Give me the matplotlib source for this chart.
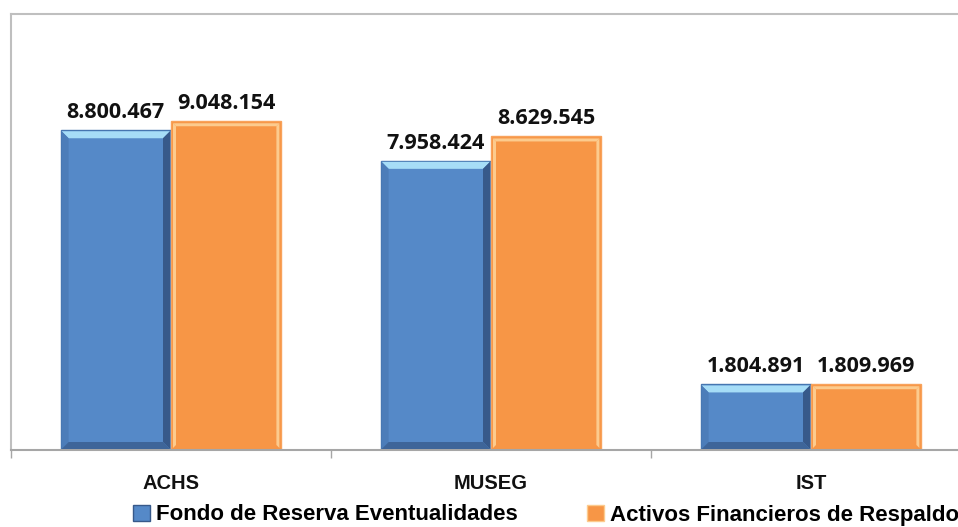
import matplotlib.pyplot as plt
import matplotlib.patches as mpatches
from matplotlib import font_manager
import numpy as np

# ---------------------------------------------------------------
# Datos
# ---------------------------------------------------------------
categorias = ['ACHS', 'MUSEG', 'IST']
fondo_reserva = [8800467, 7958424, 1804891]
activos_respaldo = [9048154, 8629545, 1809969]
etiquetas_fondo = ['8.800.467', '7.958.424', '1.804.891']
etiquetas_activos = ['9.048.154', '8.629.545', '1.809.969']
series = ['Fondo de Reserva Eventualidades', 'Activos Financieros de Respaldo']

colores = {
    'azul': '#5589C8',
    'azul_luz': '#A6DDF7',
    'azul_osc': '#37598A',
    'naranja': '#F79646',
    'naranja_luz': '#FCCB8E',
    'gris': '#BFBFBF',
}

nombres = {f.name for f in font_manager.fontManager.ttflist}
fuente_num = 'Open Sans' if 'Open Sans' in nombres else 'DejaVu Sans'
fuente_cat = 'Liberation Sans Narrow' if 'Liberation Sans Narrow' in nombres else 'Liberation Sans'

W, H = 958, 527
fig = plt.figure(figsize=(W / 100, H / 100), dpi=100)
ax = fig.add_axes([11 / W, 77 / H, 960 / W, 436 / H])

x = np.arange(len(categorias))
ancho = 0.345
b1 = ax.bar(x - ancho / 2, fondo_reserva, ancho, color=colores['azul'],
            edgecolor='#4676B0', linewidth=1, zorder=2)
b2 = ax.bar(x + ancho / 2, activos_respaldo, ancho, color=colores['naranja'],
            edgecolor='#F8A35C', linewidth=1, zorder=2)

ax.set_xlim(-0.5, 2.5)
ax.set_ylim(0, 12000000)

# conversion pixel -> datos, para el biselado
px_x = 3.0 / 960
px_y = 12000000 / 436


def bisel(rect, arriba, izq, der, abajo, b=7, margen=0):
    x0, w, h = rect.get_x(), rect.get_width(), rect.get_height()
    m = margen * px_x
    x0, x1, y1 = x0 + m, x0 + w - m, h - margen * px_y
    dx, dy = b * px_x, b * px_y
    y0 = margen * px_y
    caras = [
        ([(x0, y1), (x1, y1), (x1 - dx, y1 - dy), (x0 + dx, y1 - dy)], arriba),
        ([(x0, y0), (x0, y1), (x0 + dx, y1 - dy), (x0 + dx, y0 + dy)], izq),
        ([(x1, y0), (x1, y1), (x1 - dx, y1 - dy), (x1 - dx, y0 + dy)], der),
        ([(x0, y0), (x1, y0), (x1 - dx, y0 + dy), (x0 + dx, y0 + dy)], abajo),
    ]
    for pts, c in caras:
        if c is None:
            continue
        ax.add_patch(mpatches.Polygon(pts, closed=True, facecolor=c,
                                      edgecolor='none', zorder=3))


for r in b1:
    bisel(r, colores['azul_luz'], '#4C7DB9', colores['azul_osc'], '#3E6599', b=7, margen=1)
for r in b2:
    bisel(r, colores['naranja_luz'], colores['naranja_luz'], colores['naranja_luz'], None, b=3, margen=2)

# etiquetas de valores
for rects, etqs in ((b1, etiquetas_fondo), (b2, etiquetas_activos)):
    for r, t in zip(rects, etqs):
        ax.text(r.get_x() + r.get_width() / 2, r.get_height() + 7 * px_y, t,
                ha='center', va='bottom', fontsize=15.5, fontweight='bold',
                family=fuente_num, color='#111111')

# ejes
for s in ('top', 'left', 'bottom', 'right'):
    ax.spines[s].set_color(colores['gris'])
    ax.spines[s].set_linewidth(1.5)
ax.spines['bottom'].set_color('#A6A6A6')
ax.set_yticks([])
ax.set_xticks([-0.5, 0.5, 1.5, 2.5])
ax.tick_params(axis='x', which='major', length=6, width=1, color='#A6A6A6',
               labelbottom=False)
ax.set_xticks(x, minor=True)
ax.set_xticklabels(categorias, minor=True, fontsize=14.5, fontweight='bold',
                   family=fuente_cat, color='#111111')
ax.tick_params(axis='x', which='minor', length=0, pad=17)

# leyenda
mano = [
    mpatches.Patch(facecolor=colores['azul'], edgecolor=colores['azul_osc'], label=series[0]),
    mpatches.Patch(facecolor=colores['naranja'], edgecolor=colores['naranja_luz'], label=series[1]),
]
fig.legend(handles=mano, loc='center left', bbox_to_anchor=(133 / W, 1 - 515 / H),
           ncol=2, frameon=False, handlelength=0.75, handleheight=0.75,
           handletextpad=0.3, columnspacing=3.1, borderaxespad=0, borderpad=0,
           prop={'family': fuente_cat, 'weight': 'bold', 'size': 16})

fig.savefig('out.png', dpi=100)
